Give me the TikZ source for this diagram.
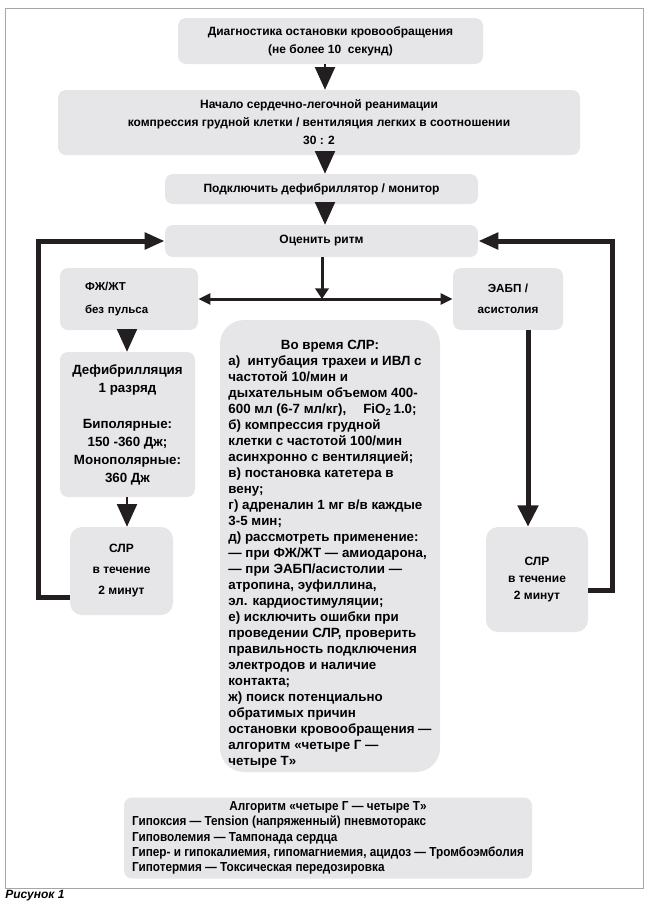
\documentclass[tikz,border=0pt]{standalone}
\usepackage{fontspec}
\setmainfont{Liberation Sans}
\newfontfamily\narrowsans{Liberation Sans}[FakeStretch=0.9]
\usetikzlibrary{arrows.meta}

\definecolor{boxgray}{RGB}{230,230,232}
\definecolor{ink}{RGB}{35,31,32}

\begin{document}
\begin{tikzpicture}[x=0.75pt, y=-0.75pt, line join=miter]
    \tikzstyle{box} = [rectangle, rounded corners=6pt, fill=boxgray, inner sep=0pt, align=center, font=\fontsize{9}{13.5}\selectfont\bfseries]
    \tikzstyle{down} = [draw=ink, line width=1.5pt, -{Triangle[length=17pt, width=15pt]}]
    \tikzstyle{stub} = [draw=ink, line width=2.25pt, -{Triangle[length=8pt, width=10pt]}]
    \tikzstyle{forkarrow} = [draw=ink, line width=2.25pt, {Triangle[length=9pt, width=8pt]}-{Triangle[length=9pt, width=8pt]}]
    \tikzstyle{thickdown} = [draw=ink, line width=3.75pt, -{Triangle[length=16pt, width=15pt]}]
    \tikzstyle{backline} = [draw=ink, line width=3.75pt, -{Triangle[length=15pt, width=12pt]}]
    \useasboundingbox (0,0) rectangle (650,904);
    \draw[gray!70, line width=0.6pt] (5,8) rectangle (643,888);

    % top chain
    \node[box, minimum width=228.75pt, minimum height=34.5pt] (diag) at (330.5,41) {Диагностика остановки кровообращения\\(не более 10\ \ секунд)};
    \node[box, minimum width=391.5pt, minimum height=48.75pt] (cpr) at (319,122.5) {Начало сердечно-легочной реанимации\\компрессия грудной клетки / вентиляция легких в соотношении\\30 : 2};
    \node[box, minimum width=234.75pt, minimum height=22.5pt] (defmon) at (321.5,189) {Подключить дефибриллятор / монитор};
    \node[box, minimum width=234.75pt, minimum height=24pt] (rhythm) at (321.5,241) {Оценить ритм};

    % rhythm branches
    \node[box, minimum width=103.5pt, minimum height=46.5pt, text width=66pt, align=left, font=\fontsize{8.6}{17}\selectfont\bfseries] (vfvt) at (129,299) {ФЖ/ЖТ\\без пульса};
    \node[box, minimum width=82.5pt, minimum height=46.5pt, font=\fontsize{8.8}{15.75}\selectfont\bfseries] (pea) at (508,299) {ЭАБП /\\асистолия};
    \node[box, minimum width=101.25pt, minimum height=108.75pt, font=\fontsize{10}{13.5}\selectfont\bfseries] (shock) at (127.5,424.5) {Дефибрилляция\\1 разряд\\[13.5pt]Биполярные:\\150 -360 Дж;\\Монополярные:\\360 Дж};
    \node[box, rounded corners=9pt, minimum width=77.25pt, minimum height=66pt, font=\fontsize{9}{15.75}\selectfont\bfseries] (cprL) at (121.5,571) {СЛР\\в течение\\2 минут};
    \node[box, rounded corners=9pt, minimum width=76.5pt, minimum height=78.75pt, font=\fontsize{9}{12.75}\selectfont\bfseries] (cprR) at (537,579.5) {СЛР\\в течение\\2 минут};

    % during CPR
    \node[box, rounded corners=18pt, minimum width=165pt, minimum height=339pt, font=\fontsize{10}{12}\selectfont\bfseries] (during) at (330,546) {\begin{tabular}{@{}l@{}}
        \multicolumn{1}{@{}c@{}}{\rule{0pt}{20.4pt}Во время СЛР:}\\
        а)\ \ интубация трахеи и ИВЛ с\\
        частотой 10/мин и\\
        дыхательным объемом 400-\\
        600 мл (6-7 мл/кг),\quad\ FiO\textsubscript{2}\,1.0;\\
        б) компрессия грудной\\
        клетки с частотой 100/мин\\
        асинхронно с вентиляцией;\\
        в) постановка катетера в\\
        вену;\\
        г) адреналин 1 мг в/в каждые\\
        3-5 мин;\\
        д) рассмотреть применение:\\
        — при ФЖ/ЖТ — амиодарона,\\
        — при ЭАБП/асистолии —\\
        атропина, эуфиллина,\\
        эл. кардиостимуляции;\\
        е) исключить ошибки при\\
        проведении СЛР, проверить\\
        правильность подключения\\
        электродов и наличие\\
        контакта;\\
        ж) поиск потенциально\\
        обратимых причин\\
        остановки кровообращения —\\
        алгоритм «четыре Г —\\
        четыре Т»
    \end{tabular}};

    % four H four T
    \node[box, minimum width=306pt, minimum height=60.75pt, font=\fontsize{9.8}{11.4}\narrowsans\bfseries] (fourHT) at (328,838) {\begin{tabular}{@{}l@{}}
        \multicolumn{1}{@{}c@{}}{Алгоритм «четыре Г — четыре Т»}\\
        Гипоксия — Tension (напряженный) пневмоторакс\\
        Гиповолемия — Тампонада сердца\\
        Гипер- и гипокалиемия, гипомагниемия, ацидоз — Тромбоэмболия\\
        Гипотермия — Токсическая передозировка
    \end{tabular}};
    \node[anchor=west, inner sep=0pt, font=\fontsize{9}{10}\selectfont\bfseries\itshape] (caption) at (5,896) {Рисунок 1};

    % connectors
    \coordinate (axis) at (325,0);
    \coordinate (stubaxis) at (322,0);
    \coordinate (laxis) at (127,0);
    \coordinate (raxis) at (528,0);
    \coordinate (loopL) at (38,597);
    \coordinate (loopR) at (612,590);
    \draw[down] (diag.south -| axis) -- (cpr.north -| axis);
    \draw[down] (cpr.south -| axis) -- (defmon.north -| axis);
    \draw[down] (defmon.south -| axis) -- (rhythm.north -| axis);
    \draw[stub] (rhythm.south -| stubaxis) -- (stubaxis |- vfvt);
    \draw[forkarrow] (vfvt.east) -- (pea.west);
    \draw[down] (vfvt.south -| laxis) -- (shock.north -| laxis);
    \draw[down] (shock.south -| laxis) -- (cprL.north -| laxis);
    \draw[thickdown] (pea.south -| raxis) -- (cprR.north -| raxis);
    \draw[backline] (cprL.west |- loopL) -- (loopL) |- (rhythm.west);
    \draw[backline] (cprR.east |- loopR) -- (loopR) |- (rhythm.east);
\end{tikzpicture}
\end{document}
